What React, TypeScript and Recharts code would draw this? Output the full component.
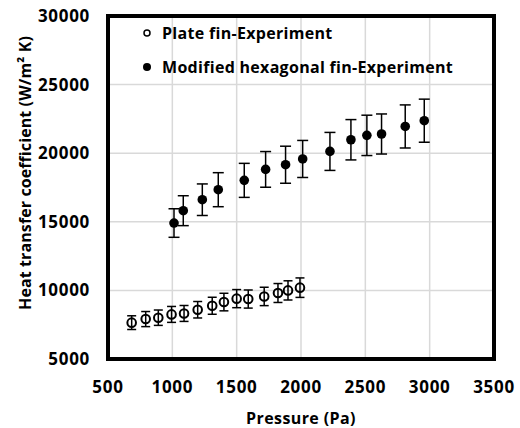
import React from 'react';
import { ScatterChart, Scatter, XAxis, YAxis, CartesianGrid, ErrorBar, ReferenceArea } from 'recharts';

const platePressure = [684, 793, 891, 994, 1091, 1197, 1310, 1401, 1500, 1590, 1714, 1821, 1899, 1992];
const plateH = [7650, 7910, 8010, 8250, 8320, 8590, 8880, 9150, 9400, 9370, 9560, 9810, 10000, 10200];
const plateErr = [500, 550, 560, 580, 580, 600, 620, 640, 660, 660, 670, 690, 700, 710];

const hexPressure = [1013, 1085, 1233, 1357, 1559, 1725, 1880, 2013, 2225, 2388, 2512, 2626, 2810, 2958];
const hexH = [14910, 15810, 16610, 17340, 18020, 18820, 19160, 19580, 20130, 20980, 21300, 21400, 21950, 22370];
const hexErr = [1040, 1090, 1150, 1240, 1240, 1300, 1350, 1350, 1385, 1470, 1470, 1460, 1570, 1570];

const xTicks = [500, 1000, 1500, 2000, 2500, 3000, 3500];
const yTicks = [5000, 10000, 15000, 20000, 25000, 30000];

const seriesNames = ['Plate fin-Experiment', 'Modified hexagonal fin-Experiment'];
const xTitle = 'Pressure (Pa)';
const yTitle = 'Heat transfer coefficient (W/m\u00B2 K)';

const plateData = platePressure.map((p, i) => ({ p, h: plateH[i], err: plateErr[i] }));
const hexData = hexPressure.map((p, i) => ({ p, h: hexH[i], err: hexErr[i] }));

const FONT = "'Open Sans', sans-serif";
const tickStyle = { fill: '#000', fontFamily: FONT, fontWeight: 700, fontSize: 17, letterSpacing: 0.7 };

const OpenDot = (props: any) => (
  <circle cx={props.cx} cy={props.cy} r={4.3} fill="none" stroke="#000" strokeWidth={2} />
);
const FilledDot = (props: any) => (
  <circle cx={props.cx} cy={props.cy} r={4.8} fill="#000" stroke="none" />
);

export default function App() {
  return (
    <div style={{ position: 'fixed', left: 0, top: 0, width: 520, height: 428, background: '#fff' }}>
      <ScatterChart
        width={520}
        height={428}
        margin={{ top: 16, right: 26, bottom: 0, left: 0 }}
      >
        <CartesianGrid stroke="#d9d9d9" strokeWidth={1.5} />
        <XAxis
          type="number"
          dataKey="p"
          domain={[500, 3500]}
          ticks={xTicks}
          interval={0}
          axisLine={false}
          tickLine={false}
          tickSize={0}
          tickMargin={22}
          height={69}
          tick={tickStyle}
          label={{
            value: xTitle,
            position: 'insideBottom',
            offset: 4,
            style: { fill: '#000', fontFamily: FONT, fontWeight: 700, fontSize: 16, letterSpacing: 0.4 },
          }}
        />
        <YAxis
          type="number"
          dataKey="h"
          domain={[5000, 30000]}
          ticks={yTicks}
          interval={0}
          axisLine={false}
          tickLine={false}
          tickSize={0}
          tickMargin={18}
          width={108}
          tick={tickStyle}
          label={{
            content: () => (
              <text
                x={25}
                y={173}
                transform="rotate(-90 25 173)"
                textAnchor="middle"
                dominantBaseline="central"
                fill="#000"
                fontFamily={FONT}
                fontWeight={700}
                fontSize={16}
                letterSpacing={0.1}
              >
                {yTitle}
              </text>
            ),
          }}
        />
        <ReferenceArea x1={500} x2={3500} y1={5000} y2={30000} fill="none" stroke="#000" strokeWidth={4} />
        <Scatter name={seriesNames[0]} data={plateData} shape={OpenDot} isAnimationActive={false}>
          <ErrorBar dataKey="err" direction="y" width={4.5} stroke="#000" strokeWidth={1.5} />
        </Scatter>
        <Scatter name={seriesNames[1]} data={hexData} shape={FilledDot} isAnimationActive={false}>
          <ErrorBar dataKey="err" direction="y" width={5.5} stroke="#000" strokeWidth={1.5} />
        </Scatter>
      </ScatterChart>
      <div
        style={{
          position: 'absolute',
          left: 140,
          top: 16,
          fontFamily: FONT,
          fontWeight: 700,
          fontSize: 16,
          letterSpacing: 0.3,
          color: '#000',
          lineHeight: '34px',
        }}
      >
        <div style={{ display: 'flex', alignItems: 'center' }}>
          <svg width={14} height={14} style={{ marginRight: 8 }}>
            <circle cx={7} cy={7} r={3} fill="none" stroke="#000" strokeWidth={1.5} />
          </svg>
          <span>{seriesNames[0]}</span>
        </div>
        <div style={{ display: 'flex', alignItems: 'center' }}>
          <svg width={14} height={14} style={{ marginRight: 8 }}>
            <circle cx={7} cy={7} r={4} fill="#000" />
          </svg>
          <span>{seriesNames[1]}</span>
        </div>
      </div>
    </div>
  );
}
